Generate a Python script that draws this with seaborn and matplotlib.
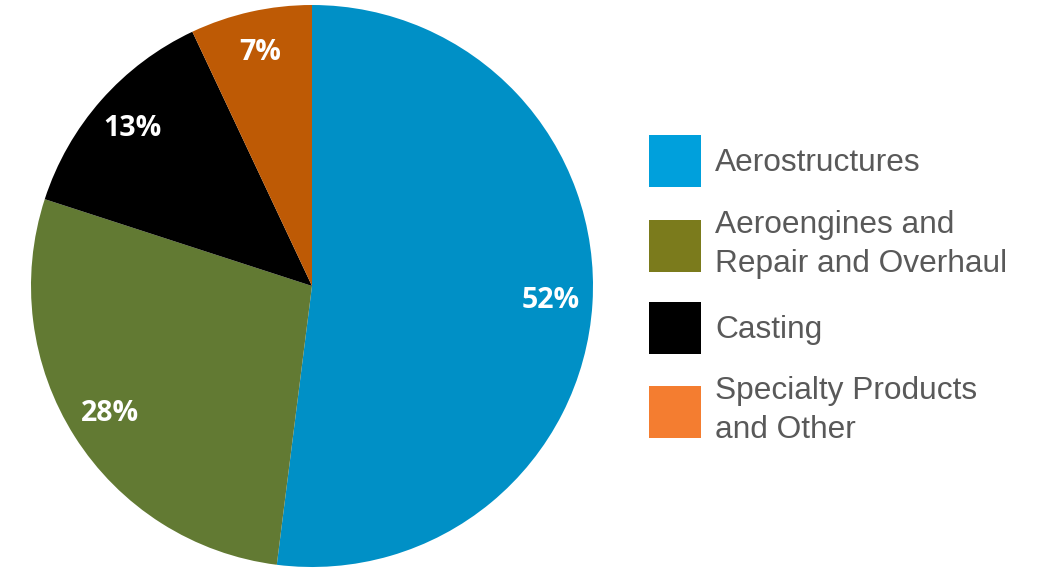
import matplotlib
matplotlib.use("Agg")
import matplotlib.pyplot as plt
from matplotlib.patches import Patch
import seaborn as sns

# Revenue share by segment
segments = ["Aerostructures", "Aeroengines and\nRepair and Overhaul", "Casting",
            "Specialty Products\nand Other"]
shares = [52, 28, 13, 7]
wedge_colors = ["#0090C6", "#627A33", "#000000", "#BE5A05"]
legend_colors = ["#00A0DC", "#7B7B1C", "#000000", "#F47D30"]

sns.set_theme(style="white")
plt.rcParams["font.family"] = ["Liberation Sans", "DejaVu Sans"]

fig = plt.figure(figsize=(10.38, 5.69), dpi=100)
ax = fig.add_axes([31 / 1038, 2 / 569, 562 / 1038, 562 / 569])

wedges, _, autotexts = ax.pie(
    shares,
    colors=wedge_colors,
    startangle=90,
    counterclock=False,
    autopct=lambda p: f"{p:.0f}%",
    pctdistance=0.85,
    wedgeprops=dict(linewidth=0),
    textprops=dict(color="white", fontsize=20.5, fontweight="bold",
                   family=["Open Sans", "DejaVu Sans"]),
)
ax.set_xlim(-1, 1)
ax.set_ylim(-1, 1)
ax.set_aspect("equal")
ax.axis("off")

handles = [Patch(facecolor=c, edgecolor="none") for c in legend_colors]
leg = fig.legend(
    handles, segments,
    loc="upper left", bbox_to_anchor=(649 / 1038, (569 - 135) / 569),
    frameon=False, fontsize=22.8, labelcolor="#595959",
    handlelength=1.64, handleheight=2.15, handletextpad=0.45,
    labelspacing=0.72, borderpad=0, borderaxespad=0,
)
for t in leg.get_texts():
    t.set_linespacing(1.39)

fig.savefig("out.png", dpi=100)
